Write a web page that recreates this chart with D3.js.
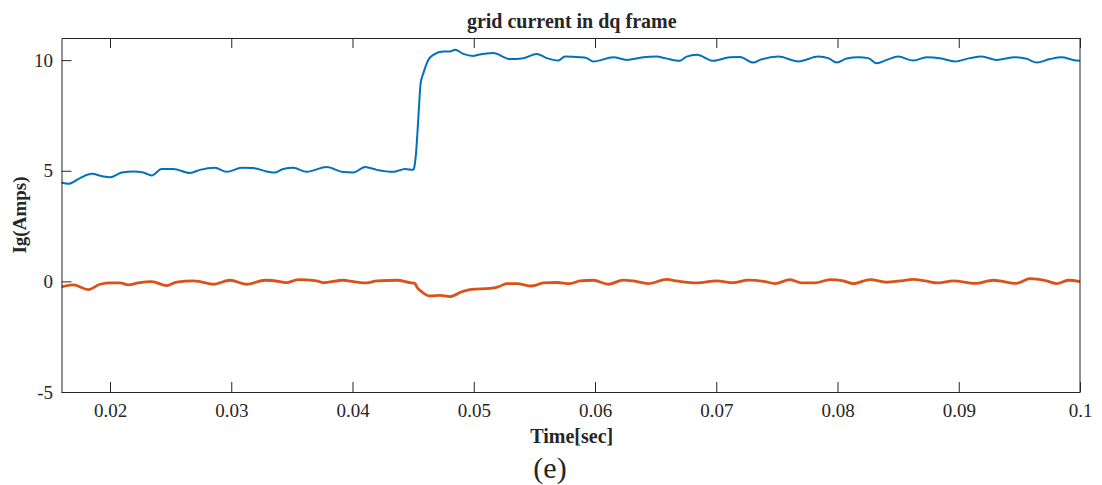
<!DOCTYPE html>
<html>
<head>
<meta charset="utf-8">
<script src="https://cdn.jsdelivr.net/npm/d3@7"></script>
<style>
  body { margin: 0; background: #fff; }
  text { font-family: "Liberation Serif", "Times New Roman", serif; fill: #262626; }
  .axis path, .axis line { stroke: #262626; }
</style>
</head>
<body>
<div id="chart"></div>
<script>
// time [s] and current [A]
var idTime = [0.0160, 0.01656, 0.01753, 0.01849, 0.01945, 0.0200, 0.02097, 0.02192, 0.02275, 0.02344,
  0.02426, 0.02522, 0.02660, 0.02742, 0.02866, 0.02962, 0.03086, 0.03182, 0.03292, 0.03361,
  0.03429, 0.03512, 0.03622, 0.03787, 0.03924, 0.04007, 0.04103, 0.04200, 0.04337, 0.04433,
  0.04501, 0.04507, 0.04524, 0.04543, 0.04562, 0.04584, 0.04625, 0.04666, 0.04749, 0.04804,
  0.04845, 0.04914, 0.04996, 0.05038, 0.05161, 0.05299, 0.05409, 0.05519, 0.05602, 0.05697,
  0.05753, 0.05876, 0.05932, 0.05986, 0.06151, 0.06261, 0.06398, 0.06509, 0.06577, 0.06701,
  0.06756, 0.06839, 0.06976, 0.07113, 0.07196, 0.07306, 0.07361, 0.07512, 0.07677, 0.07842,
  0.07924, 0.07993, 0.08076, 0.08172, 0.08254, 0.08323, 0.08406, 0.08501, 0.08625, 0.08736,
  0.08845, 0.08969, 0.09093, 0.09189, 0.09313, 0.09464, 0.09560, 0.09643, 0.09753, 0.09849,
  0.09945, 0.1000];
var idValue = [4.47, 4.41, 4.67, 4.86, 4.74, 4.71, 4.92, 4.97, 4.92, 4.79,
  5.08, 5.08, 4.90, 5.04, 5.13, 4.95, 5.13, 5.12, 4.97, 4.92,
  5.08, 5.13, 4.95, 5.17, 4.94, 4.92, 5.17, 5.04, 4.95, 5.08,
  5.04, 5.10, 5.80, 7.38, 8.96, 9.40, 10.01, 10.24, 10.39, 10.39,
  10.47, 10.28, 10.19, 10.24, 10.32, 10.05, 10.09, 10.28, 10.09, 9.98,
  10.16, 10.13, 10.09, 9.94, 10.13, 10.01, 10.13, 10.16, 10.09, 9.97,
  10.16, 10.24, 9.97, 10.13, 10.14, 9.89, 10.01, 10.16, 9.94, 10.16,
  10.09, 9.89, 10.07, 10.13, 10.09, 9.86, 10.01, 10.16, 9.98, 10.13,
  10.09, 9.94, 10.09, 10.16, 10.01, 10.13, 10.06, 9.89, 10.05, 10.13,
  10.01, 9.97];

var iqTime = [0.0160, 0.01697, 0.01821, 0.01918, 0.02014, 0.02083, 0.02151, 0.02233, 0.02344, 0.02468,
  0.02550, 0.02687, 0.02742, 0.02852, 0.02990, 0.03127, 0.03278, 0.03402, 0.03457, 0.03553,
  0.03705, 0.03759, 0.03924, 0.04007, 0.04117, 0.04200, 0.04364, 0.04474, 0.04516, 0.04530,
  0.04571, 0.04639, 0.04722, 0.04804, 0.04901, 0.04983, 0.05134, 0.05202, 0.05272, 0.05354,
  0.05478, 0.05574, 0.05684, 0.05794, 0.05876, 0.05986, 0.06110, 0.06233, 0.06316, 0.06440,
  0.06591, 0.06674, 0.06839, 0.07004, 0.07141, 0.07264, 0.07402, 0.07485, 0.07608, 0.07705,
  0.07814, 0.07938, 0.08048, 0.08130, 0.08268, 0.08406, 0.08515, 0.08625, 0.08722, 0.08831,
  0.08955, 0.09134, 0.09285, 0.09478, 0.09588, 0.09725, 0.09808, 0.09903, 0.1000];
var iqValue = [-0.25, -0.16, -0.37, -0.13, -0.07, -0.07, -0.16, -0.07, -0.01, -0.19,
  -0.03, 0.02, -0.01, -0.13, 0.05, -0.13, 0.05, -0.01, -0.06, 0.08,
  0.02, -0.06, 0.05, -0.01, -0.07, 0.02, 0.05, -0.06, -0.10, -0.25,
  -0.47, -0.66, -0.63, -0.69, -0.47, -0.36, -0.32, -0.25, -0.10, -0.10,
  -0.21, -0.07, -0.05, -0.10, 0.02, 0.05, -0.13, 0.06, 0.02, -0.10,
  0.09, 0.02, -0.07, 0.02, -0.06, 0.06, -0.01, -0.10, 0.08, -0.07,
  -0.07, 0.08, 0.02, -0.10, 0.08, -0.04, 0.02, 0.09, 0.02, -0.07,
  0.02, -0.09, 0.05, -0.09, 0.12, 0.02, -0.10, 0.05, -0.01];

var xTicks = [0.02, 0.03, 0.04, 0.05, 0.06, 0.07, 0.08, 0.09, 0.1];
var yTicks = [-5, 0, 5, 10];

var svgWidth = 1102;
var svgHeight = 485;
var margin = { top: 38, right: 22, bottom: 93, left: 61.5 };
var width = svgWidth - margin.left - margin.right;
var height = svgHeight - margin.top - margin.bottom;

var svg = d3.select("#chart")
  .append("svg")
  .attr("width", svgWidth)
  .attr("height", svgHeight);

var chartGroup = svg.append("g")
  .attr("transform", `translate(${margin.left}, ${margin.top})`);

var xScale = d3.scaleLinear().domain([0.016, 0.1]).range([0, width]);
var yScale = d3.scaleLinear().domain([-5, 11]).range([height, 0]);

var line = d3.line()
  .curve(d3.curveMonotoneX)
  .x(d => xScale(d[0]))
  .y(d => yScale(d[1]));

var idData = idTime.map((t, i) => [t, idValue[i]]);
var iqData = iqTime.map((t, i) => [t, iqValue[i]]);

chartGroup.append("path")
  .datum(idData)
  .attr("fill", "none")
  .attr("stroke", "#0072BD")
  .attr("stroke-width", 2)
  .attr("stroke-linejoin", "round")
  .attr("d", line);

chartGroup.append("path")
  .datum(iqData)
  .attr("fill", "none")
  .attr("stroke", "#D95319")
  .attr("stroke-width", 2.8)
  .attr("stroke-linejoin", "round")
  .attr("d", line);

// axes, ticks pointing inward
var bottomAxis = d3.axisBottom(xScale)
  .tickValues(xTicks)
  .tickFormat(d => String(+d.toFixed(3)))
  .tickSizeInner(-10).tickSizeOuter(0).tickPadding(11.5);
var topAxis = d3.axisTop(xScale)
  .tickValues(xTicks)
  .tickFormat("")
  .tickSizeInner(-10).tickSizeOuter(0);
var leftAxis = d3.axisLeft(yScale)
  .tickValues(yTicks)
  .tickFormat(d => String(d))
  .tickSizeInner(-10).tickSizeOuter(0).tickPadding(8.5);

chartGroup.append("g")
  .attr("class", "axis")
  .attr("transform", `translate(0, ${height})`)
  .call(bottomAxis);

chartGroup.append("g")
  .attr("class", "axis")
  .call(topAxis);

chartGroup.append("g")
  .attr("class", "axis")
  .call(leftAxis);

chartGroup.append("line")
  .attr("x1", width).attr("x2", width)
  .attr("y1", 0).attr("y2", height)
  .attr("stroke", "#262626");

chartGroup.selectAll(".axis text")
  .attr("font-size", 19)
  .style("font-family", "'Liberation Serif', 'Times New Roman', serif")
  .attr("fill", "#262626");

// labels
chartGroup.append("text")
  .attr("x", width / 2 + 1)
  .attr("y", -10.5)
  .attr("text-anchor", "middle")
  .attr("font-size", 20)
  .attr("font-weight", "bold")
  .text("grid current in dq frame");

chartGroup.append("text")
  .attr("x", width / 2 + 1)
  .attr("y", height + 51)
  .attr("text-anchor", "middle")
  .attr("font-size", 20)
  .attr("font-weight", "bold")
  .text("Time[sec]");

chartGroup.append("text")
  .attr("transform", "rotate(-90)")
  .attr("x", 0 - height / 2)
  .attr("y", 0 - margin.left + 26)
  .attr("text-anchor", "middle")
  .attr("font-size", 19)
  .attr("font-weight", "bold")
  .text("Ig(Amps)");

svg.append("text")
  .attr("x", 550)
  .attr("y", 478)
  .attr("text-anchor", "middle")
  .attr("font-size", 30)
  .text("(e)");
</script>
</body>
</html>
